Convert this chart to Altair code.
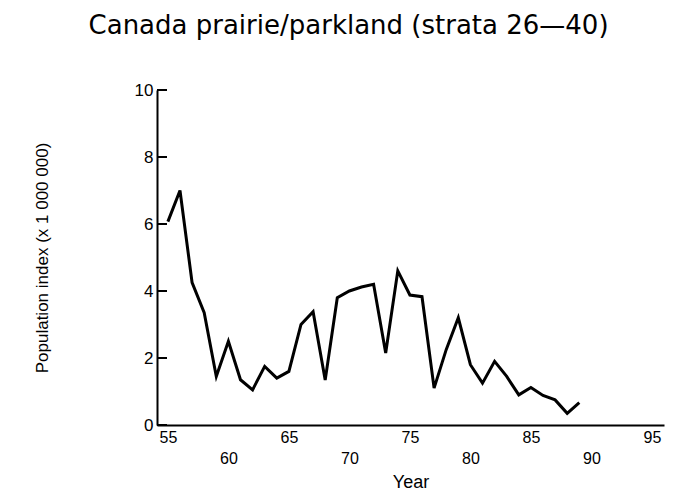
import altair as alt
import pandas as pd

# Data
years = [55, 56, 57, 58, 59, 60, 61, 62, 63, 64, 65, 66, 67, 68, 69, 70, 71,
         72, 73, 74, 75, 76, 77, 78, 79, 80, 81, 82, 83, 84, 85, 86, 87, 88, 89]
population = [6.07, 7.0, 4.25, 3.35, 1.45, 2.5, 1.35, 1.05, 1.75, 1.4, 1.6,
              3.0, 3.38, 1.34, 3.8, 4.0, 4.12, 4.2, 2.15, 4.6, 3.88, 3.83,
              1.1, 2.25, 3.2, 1.8, 1.25, 1.9, 1.45, 0.9, 1.12, 0.88, 0.75,
              0.35, 0.67]
x_tick_values = [55, 60, 65, 70, 75, 80, 85, 90, 95]
y_tick_values = [0, 2, 4, 6, 8, 10]

df = pd.DataFrame({"year": years, "population": population})
ticks_df = pd.DataFrame({"v": y_tick_values})

FONT = "Liberation Sans"

x_scale = alt.Scale(domain=[54.1, 96], nice=False, zero=False)
y_scale = alt.Scale(domain=[0, 10], nice=False)

y_axis = alt.Axis(
    values=y_tick_values, title="Population index (x 1 000 000)",
    ticks=False, grid=False, labelFontSize=17, labelFont=FONT,
    labelColor="black", labelPadding=4, labelFlush=False,
    domainColor="black", domainWidth=2,
    titleFont=FONT, titleFontSize=17, titleFontWeight="normal",
    titleColor="black", titlePadding=83)

line = alt.Chart(df).mark_line(color="black", strokeWidth=3).encode(
    x=alt.X("year:Q", scale=x_scale, axis=alt.Axis(
        values=x_tick_values, title="Year", ticks=False, grid=False,
        labelExpr="datum.value % 10 == 0 ? ['', datum.label] : datum.label",
        labelLineHeight=21, labelFontSize=16, labelFont=FONT, labelColor="black",
        labelPadding=4, labelFlush=False, labelOverlap=False,
        domainColor="black", domainWidth=2,
        titleFont=FONT, titleFontSize=18, titleFontWeight="normal",
        titleColor="black", titlePadding=7)),
    y=alt.Y("population:Q", scale=y_scale, axis=y_axis),
)

yticks = alt.Chart(ticks_df).mark_rule(color="black", strokeWidth=2).encode(
    y=alt.Y("v:Q", scale=y_scale, axis=y_axis),
    x=alt.value(0),
    x2=alt.value(10),
)

chart = alt.layer(line, yticks).properties(
    width=507,
    height=335,
    padding={"left": 25, "top": 5, "right": 5, "bottom": 0},
    title=alt.TitleParams(
        "Canada prairie/parkland (strata 26—40)",
        font="DejaVu Sans", fontSize=26, fontWeight="normal", color="black",
        anchor="middle", frame="bounds", offset=42),
).configure(background="white").configure_view(stroke=None)

chart.save("out.html", embed_options={"renderer": "svg", "actions": False})
